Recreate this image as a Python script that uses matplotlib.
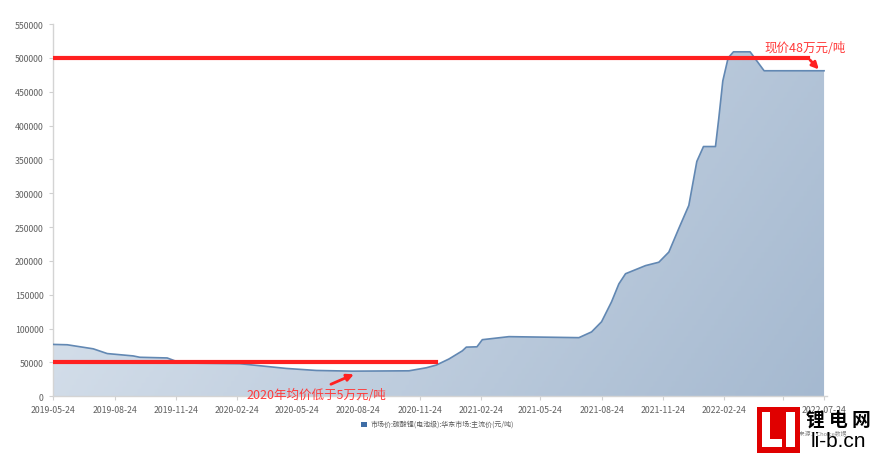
import matplotlib.pyplot as plt
import matplotlib.dates as mdates
import numpy as np
import pandas as pd
from matplotlib.patches import Rectangle, Polygon

plt.rcParams['font.family'] = ['Noto Sans CJK SC', 'DejaVu Sans']

# price of battery-grade lithium carbonate, East China (yuan/ton)
dates = ['2019-05-24', '2019-06-14', '2019-07-23', '2019-08-13', '2019-09-21',
         '2019-10-01', '2019-11-11', '2019-11-26', '2019-12-05', '2020-02-28',
         '2020-03-29', '2020-05-08', '2020-06-22', '2020-08-15', '2020-11-08',
         '2020-12-04', '2020-12-19', '2021-01-07', '2021-01-27', '2021-02-02',
         '2021-02-18', '2021-02-26', '2021-04-07', '2021-07-21', '2021-08-09',
         '2021-08-24', '2021-09-08', '2021-09-19', '2021-09-29', '2021-10-29',
         '2021-11-18', '2021-12-03', '2021-12-18', '2022-01-02', '2022-01-14',
         '2022-01-24', '2022-02-11', '2022-02-16', '2022-02-22', '2022-03-02',
         '2022-03-10', '2022-04-04', '2022-04-16', '2022-04-25', '2022-07-24']
prices = [76500, 76000, 70000, 63000, 59500,
          57500, 56500, 51000, 49000, 48000,
          45000, 41000, 38000, 37000, 37500,
          42000, 46000, 55000, 67000, 72500,
          73000, 83500, 88000, 86500, 95000,
          110000, 139500, 166000, 181000, 193000,
          198000, 213000, 248000, 282000, 347000,
          369000, 369000, 411000, 466000, 500000,
          509000, 509000, 493000, 481000, 481000]

tick_dates = ['2019-05-24', '2019-08-24', '2019-11-24', '2020-02-24', '2020-05-24',
              '2020-08-24', '2020-11-24', '2021-02-24', '2021-05-24', '2021-08-24',
              '2021-11-24', '2022-02-24', '2022-05-24', '2022-07-24']
tick_labels = ['2019-05-24', '2019-08-24', '2019-11-24', '2020-02-24', '2020-05-24',
               '2020-08-24', '2020-11-24', '2021-02-24', '2021-05-24', '2021-08-24',
               '2021-11-24', '2022-02-24', '', '2022-07-24']
y_ticks = [0, 50000, 100000, 150000, 200000, 250000, 300000, 350000, 400000, 450000, 500000, 550000]

legend_label = '市场价:碳酸锂(电池级):华东市场:主流价(元/吨)'
note_low = '2020年均价低于5万元/吨'
note_now = '现价48万元/吨'

x = mdates.date2num(pd.to_datetime(dates))
y = np.array(prices)

fig = plt.figure(figsize=(8.73, 4.56), dpi=100)
ax = fig.add_axes([0.061, 0.129, 0.886, 0.816])

x0 = mdates.date2num(pd.Timestamp('2019-05-24'))
x1 = mdates.date2num(pd.Timestamp('2022-07-28'))
ax.set_xlim(x0, x1)
ax.set_ylim(0, 550000)

# gradient filled area
verts = np.column_stack([np.r_[x, x[-1], x[0]], np.r_[y, 0, 0]])
poly = Polygon(verts, closed=True, facecolor='none', edgecolor='none', transform=ax.transData)
ax.add_patch(poly)
gx, gy = np.meshgrid(np.linspace(0, 1, 200), np.linspace(0, 1, 200))
grad = 0.75 * gx + 0.25 * gy
cmap = plt.matplotlib.colors.LinearSegmentedColormap.from_list('g', ['#dfe7f0', '#a5b9d0'])
img = ax.imshow(grad, cmap=cmap, extent=[x0, x1, 0, 550000], origin='upper',
                aspect='auto', zorder=1, vmin=0, vmax=1)
img.set_clip_path(poly)
ax.plot(x, y, color='#6288b3', lw=1.2, zorder=3)

# red annotation lines
red = '#ff2020'
ax.plot([x0, mdates.date2num(pd.Timestamp('2020-12-19'))], [50000, 50000], color=red, lw=3, zorder=4)
xa = mdates.date2num(pd.Timestamp('2022-06-30'))
ax.plot([x0, xa], [500000, 500000], color=red, lw=3, zorder=4)
ax.annotate('', xy=(mdates.date2num(pd.Timestamp('2022-07-19')), 480000), xytext=(xa, 500000),
            arrowprops=dict(arrowstyle='-|>', color=red, lw=2, mutation_scale=10), zorder=5)
ax.annotate('', xy=(mdates.date2num(pd.Timestamp('2020-08-21')), 34000),
            xytext=(mdates.date2num(pd.Timestamp('2020-07-10')), 16000),
            arrowprops=dict(arrowstyle='-|>', color=red, lw=2, mutation_scale=10), zorder=5)
ax.text(mdates.date2num(pd.Timestamp('2020-06-22')), 3000, note_low, color='#ff3b3b',
        fontsize=9, ha='center', va='center', zorder=5)
ax.text(mdates.date2num(pd.Timestamp('2022-06-26')), 516000, note_now, color='#ff3b3b',
        fontsize=9, ha='center', va='center', zorder=5)

ax.set_xticks(mdates.date2num(pd.to_datetime(tick_dates)))
ax.set_xticklabels(tick_labels)
ax.set_yticks(y_ticks)
ax.set_yticklabels([str(v) for v in y_ticks])
ax.tick_params(axis='both', labelsize=6.3, colors='#d0d0d0', labelcolor='#606060', length=3, width=0.8)
ax.tick_params(axis='y', pad=4)
for s in ['top', 'right']:
    ax.spines[s].set_visible(False)
for s in ['left', 'bottom']:
    ax.spines[s].set_color('#d4d4d4')
    ax.spines[s].set_linewidth(1)

# legend
fig.patches.append(Rectangle((0.413, 0.062), 0.007, 0.011, transform=fig.transFigure,
                             facecolor='#3f6ea6', edgecolor='none'))
fig.text(0.425, 0.068, legend_label, fontsize=5, color='#595959', va='center')

# source and logo
fig.text(0.902, 0.05, '数据来源：Choice数据', fontsize=4.2, color='#888888', va='center', ha='left')
fig.patches.append(Rectangle((757 / 873, 1 - 454 / 456), 43 / 873, 46 / 456, transform=fig.transFigure,
                             facecolor='#e00000', edgecolor='none', zorder=5))
for rx, ry, rw, rh in [(762, 413, 8, 35), (762, 440, 20, 8), (786, 413, 9, 35)]:
    fig.patches.append(Rectangle((rx / 873, 1 - (ry + rh) / 456), rw / 873, rh / 456,
                                 transform=fig.transFigure, facecolor='white', edgecolor='none', zorder=6))
fig.text(838 / 873, 1 - 420 / 456, '锂 电 网', fontsize=13.5, color='black', ha='center', va='center',
         fontweight='bold', zorder=7)
fig.text(838 / 873, 1 - 442 / 456, 'li-b.cn', fontsize=15, color='black', ha='center', va='center',
         family=['Liberation Sans', 'DejaVu Sans'], zorder=7)

fig.savefig('out.png', dpi=100)
